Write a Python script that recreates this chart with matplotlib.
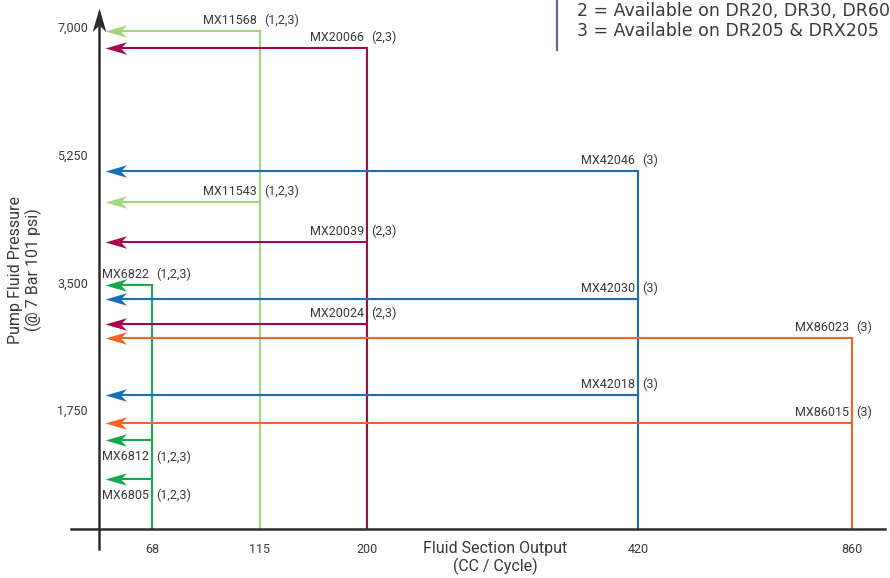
import numpy as np
import matplotlib
matplotlib.use("Agg")
import matplotlib.pyplot as plt
from matplotlib.path import Path

# Data
models = ["MX11568", "MX11543", "MX20066", "MX20039", "MX20024",
          "MX42046", "MX42030", "MX42018", "MX86023", "MX86015",
          "MX6822", "MX6812", "MX6805"]
avail = ["(1,2,3)", "(1,2,3)", "(2,3)", "(2,3)", "(2,3)",
         "(3)", "(3)", "(3)", "(3)", "(3)",
         "(1,2,3)", "(1,2,3)", "(1,2,3)"]
output_cc = [115, 115, 200, 200, 200, 420, 420, 420, 860, 860, 68, 68, 68]
pressure = [6950, 4600, 6710, 4050, 2930, 5020, 3270, 1955, 2735, 1575,
            3460, 1340, 810]

x_ticks = [68, 115, 200, 420, 860]
y_ticks = [1750, 3500, 5250, 7000]
legend_lines = ["2 = Available on DR20, DR30, DR60",
                "3 = Available on DR205 & DRX205"]

# Styling
colors = {68: "#16a84b", 115: "#a3d67f", 200: "#a5064f",
          420: "#1b6db6", 860: "#f26524"}
below = {"MX6812", "MX6805"}
txt = "#383838"
plt.rcParams['font.family'] = ["Roboto", "DejaVu Sans"]

# uneven x axis: piecewise-linear scale (pixel offsets of the original)
sc_vals = [0, 68, 115, 200, 420, 860, 900]
sc_pos = [0, 53, 161, 268, 539, 753, 786]


def fwd(v):
    return np.interp(v, sc_vals, sc_pos)


def inv(p):
    return np.interp(p, sc_pos, sc_vals)


# swept arrow head, tip at the origin
head = Path([(0, 0), (1, 0.29), (0.72, 0), (1, -0.29), (0, 0)],
            [Path.MOVETO, Path.LINETO, Path.LINETO, Path.LINETO, Path.CLOSEPOLY])

fig = plt.figure(figsize=(8.9, 5.78), dpi=100)
ax = fig.add_axes([99 / 890, 49 / 578, 786 / 890, 521 / 578])
ax.set_xscale("function", functions=(fwd, inv))
ax.set_xlim(0, 900)
ax.set_ylim(119, 7260)

tip = 8
ymin = ax.get_ylim()[0]

# vertical risers
for xv in x_ticks:
    top = max(p for o, p in zip(output_cc, pressure) if o == xv)
    ax.plot([xv, xv], [ymin, top], color=colors[xv], lw=1.5,
            solid_capstyle="butt", zorder=2)

# horizontal arrows + labels
for m, a, o, p in zip(models, avail, output_cc, pressure):
    c = colors[o]
    ax.plot([tip + 10, o], [p, p], color=c, lw=1.5, zorder=3)
    ax.plot([tip], [p], marker=head, markersize=31, color=c,
            markeredgewidth=0, linestyle="none", zorder=4)
    if m in below:
        dy, va = -7.5, "top"
    else:
        dy, va = 5, "baseline"
    ax.annotate(m, (o, p), xytext=(-2, dy), textcoords="offset points",
                ha="right", va=va, fontsize=9, color=txt)
    ax.annotate(a, (o, p), xytext=(3, dy), textcoords="offset points",
                ha="left", va=va, fontsize=9, color=txt)

# axes with arrows
for s in ax.spines.values():
    s.set_visible(False)
axc = "#2d2d2d"
ax.plot([-0.036, 1.0], [0, 0], transform=ax.transAxes, color=axc, lw=1.8,
        clip_on=False, zorder=5)
ax.plot([0, 0], [-0.039, 0.99], transform=ax.transAxes, color=axc, lw=1.8,
        clip_on=False, zorder=5)
ax.plot([1.005], [0], transform=ax.transAxes, marker=head, markersize=34,
        color=axc, markeredgewidth=0, clip_on=False, zorder=6,
        markerfacecolor=axc)
ax.plot([0], [1.0], transform=ax.transAxes,
        marker=matplotlib.markers.MarkerStyle(head).rotated(deg=-90),
        markersize=34, color=axc, markeredgewidth=0, clip_on=False, zorder=6)

ax.set_xticks(x_ticks)
ax.set_xticklabels([str(v) for v in x_ticks])
ax.set_yticks(y_ticks)
ax.set_yticklabels([f"{v:,}" for v in y_ticks])
ax.xaxis.set_minor_locator(matplotlib.ticker.NullLocator())
ax.tick_params(length=0, labelsize=9, labelcolor=txt)
ax.tick_params(axis="x", pad=10)
ax.tick_params(axis="y", pad=8)

fig.text(25 / 890, 1 - 270 / 578, "Pump Fluid Pressure\n(@ 7 Bar 101 psi)",
         rotation=90, ha="center", va="center", fontsize=11.5, color=txt,
         linespacing=1.15)
fig.text(495 / 890, 1 - 558 / 578, "Fluid Section Output\n(CC / Cycle)",
         ha="center", va="center", fontsize=11.5, color=txt, linespacing=1.15)

# legend block at top right (cut off by the figure edge)
fig.add_artist(plt.Line2D([557 / 890, 557 / 890], [1.0, 1 - 50 / 578],
                          color="#5d6c8c", lw=1.6))
for i, line in enumerate(legend_lines):
    fig.text(577 / 890, 1 - (11 + 20 * i) / 578, line, ha="left", va="center",
             fontsize=12.5, color="#3a3a3a", family=["DejaVu Sans"])

plt.savefig("out.png", dpi=100)
